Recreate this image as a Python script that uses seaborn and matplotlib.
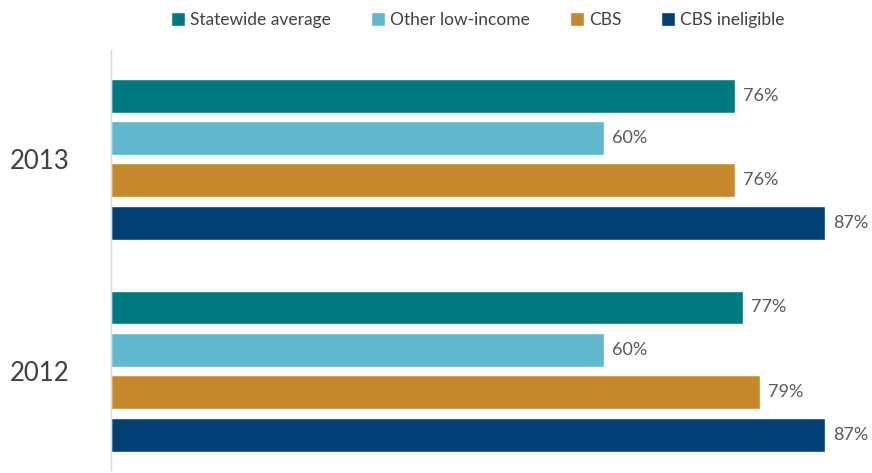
import matplotlib
matplotlib.use('Agg')
import matplotlib.pyplot as plt
import pandas as pd
import seaborn as sns

# Data
years = ['2013', '2012']
groups = ['Statewide average', 'Other low-income', 'CBS', 'CBS ineligible']
values_2013 = [76, 60, 76, 87]
values_2012 = [77, 60, 79, 87]
colors = ['#007A80', '#5FB8CE', '#C6882D', '#023F75']

rows = []
for year, vals in zip(years, [values_2013, values_2012]):
    for g, v in zip(groups, vals):
        rows.append({'Year': year, 'Group': g, 'Value': v})
df = pd.DataFrame(rows)

sns.set_style('white')
plt.rcParams['font.family'] = ['Lato', 'DejaVu Sans']

fig = plt.figure(figsize=(8.72, 4.73), dpi=100)
ax = fig.add_axes([111 / 872, 3 / 473, 1 - 111 / 872, 420 / 473])

sns.barplot(data=df, x='Value', y='Year', hue='Group', hue_order=groups,
            order=years, palette=colors, orient='h', width=0.8, gap=0.2,
            saturation=1, ax=ax)

for container in ax.containers:
    ax.bar_label(container, fmt='{:.0f}%', padding=6, fontsize=13, color='#595959')

ax.set_xlim(0, 92.7)
ax.set_ylim(1.467, -0.515)
ax.set_xlabel('')
ax.set_ylabel('')
ax.set_xticks([])
ax.tick_params(axis='y', length=0, pad=30, labelsize=18.5, labelcolor='#404040')

for side in ['top', 'right', 'bottom']:
    ax.spines[side].set_visible(False)
ax.spines['left'].set_color('#D9D9D9')
ax.spines['left'].set_linewidth(1)

handles, labels = ax.get_legend_handles_labels()
ax.get_legend().remove()
leg = fig.legend(handles, labels, loc='center', bbox_to_anchor=(478 / 872, 1 - 20 / 473),
                 ncol=4, frameon=False, fontsize=12.5, handlelength=0.8, handleheight=0.8,
                 handletextpad=0.3, columnspacing=2.3)
for t in leg.get_texts():
    t.set_color('#404040')

fig.savefig('out.png', dpi=100)
